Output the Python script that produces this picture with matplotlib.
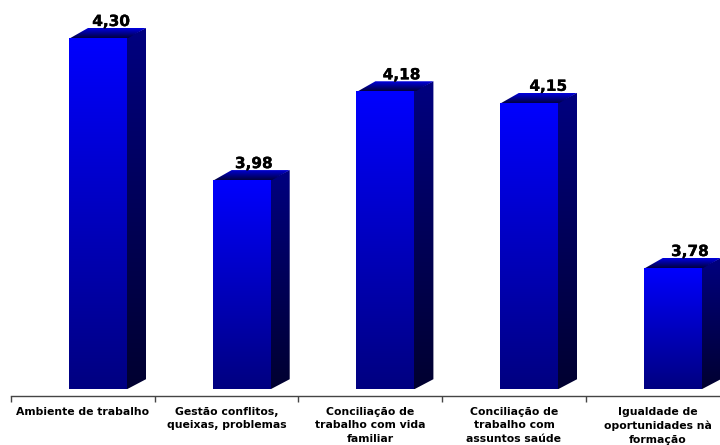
import numpy as np
import matplotlib
matplotlib.use("Agg")
from matplotlib import pyplot as plt
from matplotlib import patheffects as pe
from matplotlib.colors import LinearSegmentedColormap
from matplotlib.patches import Polygon

categories = ["Ambiente de trabalho", "Gestão conflitos,\nqueixas, problemas",
              "Conciliação de\ntrabalho com vida\nfamiliar",
              "Conciliação de\ntrabalho com\nassuntos saúde",
              "Igualdade de\noportunidades nà\nformação"]
values = [4.30, 3.98, 4.18, 4.154, 3.782]
value_labels = ["4,30", "3,98", "4,18", "4,15", "3,78"]
label_shift = [42, 41, 45, 48, 46]  # px from the bar's left edge

W, H = 720, 445
px_per_x = 143.7
px_per_y = 444.0
bar_w = 58 / px_per_x
dx = 19 / px_per_x
dy = 10 / px_per_y
base = 3.509
eps_x = 0.8 / px_per_x
eps_y = 0.8 / px_per_y

front = LinearSegmentedColormap.from_list("front", ["#0000ff", "#000080"])
side = LinearSegmentedColormap.from_list("side", ["#000080", "#000030"])
top = LinearSegmentedColormap.from_list("top", ["#0000e0", "#000040"])

fig = plt.figure(figsize=(W / 100, H / 100), dpi=100)
ax = fig.add_axes([11 / W, (H - 396) / H, 5 * px_per_x / W, 396 / H])
ax.set_xlim(0, 5)
ax.set_ylim(4.30 - 358 / px_per_y, 4.30 + 38 / px_per_y)


def grad(cmap, extent, clip, z):
    g = np.linspace(0, 1, 256).reshape(-1, 1)
    im = ax.imshow(g, cmap=cmap, extent=extent, aspect="auto", zorder=z, interpolation="bilinear")
    poly = Polygon(clip, closed=True, transform=ax.transData, fc="none", ec="none")
    ax.add_patch(poly)
    im.set_clip_path(poly)


for i, v in enumerate(values):
    x0 = i + 58 / px_per_x
    x1 = x0 + bar_w
    grad(side, [x1 - eps_x, x1 + dx, base, v + dy],
         [(x1 - eps_x, base), (x1, base), (x1 + dx, base + dy), (x1 + dx, v + dy), (x1 - eps_x, v)], 2)
    grad(top, [x0, x1 + dx, v, v + dy],
         [(x0, v - eps_y), (x1, v - eps_y), (x1 + dx, v + dy), (x0 + dx, v + dy)], 2.1)
    grad(front, [x0, x1, base, v], [(x0, base), (x1, base), (x1, v), (x0, v)], 2.2)
    t = ax.text(x0 + label_shift[i] / px_per_x, v + dy - 1 / px_per_y, value_labels[i], ha="center", va="bottom",
                fontsize=11, fontweight="bold", color="black", zorder=3)
    t.set_path_effects([pe.withStroke(linewidth=0.25, foreground="black")])

ax.set_xticks(np.arange(0, 6))
ax.set_xticklabels([])
ax.set_xticks(np.arange(5) + 0.5, minor=True)
ax.set_xticklabels(categories, minor=True, fontsize=7.8, fontweight="bold", linespacing=1.42)
ax.tick_params(axis="x", which="major", direction="out", length=4.3, width=1, color="#444444")
ax.tick_params(axis="x", which="minor", length=0, pad=8)
ax.set_yticks([])
for s in ["top", "left", "right"]:
    ax.spines[s].set_visible(False)
ax.spines["bottom"].set_color("#444444")
ax.spines["bottom"].set_linewidth(1)
ax.patch.set_visible(False)

fig.savefig("out.png", dpi=100)
